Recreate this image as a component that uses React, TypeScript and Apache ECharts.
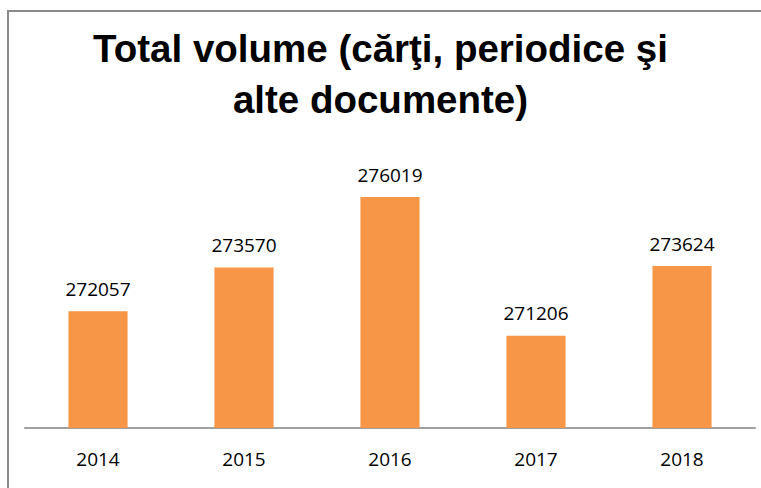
import React, { useEffect, useRef } from "react";
import * as echarts from "echarts";

const categories = ["2014", "2015", "2016", "2017", "2018"];
const values = [272057, 273570, 276019, 271206, 273624];
const titleText = "Total volume (cărţi, periodice şi\nalte documente)";

export default function App() {
  const ref = useRef<HTMLDivElement>(null);
  useEffect(() => {
    document.body.style.margin = "0";
    const chart = echarts.init(ref.current!, null, { renderer: "svg" });
    chart.setOption({
      animation: false,
      backgroundColor: "#ffffff",
      title: {
        text: titleText,
        left: "center",
        top: 18,
        textStyle: {
          fontFamily: "Liberation Sans",
          fontWeight: "bold",
          fontSize: 38.5,
          lineHeight: 51,
          color: "#000000",
          align: "center",
        },
      },
      graphic: [
        {
          type: "rect",
          shape: { x: 755, y: 13, width: 6, height: 412 },
          style: { fill: "#ffffff" },
          silent: true,
          z: 99,
        },
        {
          type: "rect",
          shape: { x: 7, y: 10, width: 2, height: 478 },
          style: { fill: "#8a8a8a" },
          silent: true,
          z: 100,
        },
        {
          type: "rect",
          shape: { x: 7, y: 10, width: 754, height: 2 },
          style: { fill: "#8a8a8a" },
          silent: true,
          z: 100,
        },
      ],
      grid: { left: 25, right: 6, top: 140, bottom: 60 },
      xAxis: {
        type: "category",
        data: categories,
        axisLine: { show: true, lineStyle: { color: "#a0a0a0", width: 2 } },
        axisTick: { show: false },
        axisLabel: {
          margin: 21,
          fontFamily: "Open Sans",
          fontSize: 19,
          color: "#000000",
        },
      },
      yAxis: {
        type: "value",
        min: 268000,
        max: 278000,
        interval: 2000,
        show: false,
        axisLine: { show: false },
        splitLine: { show: false },
      },
      series: [
        {
          type: "bar",
          data: values,
          barWidth: "40.5%",
          itemStyle: { color: "#F79646" },
          label: {
            show: true,
            position: "top",
            distance: 13,
            fontFamily: "Open Sans",
            fontSize: 19,
            color: "#000000",
          },
        },
      ],
    });
    return () => chart.dispose();
  }, []);
  return <div ref={ref} style={{ width: 761, height: 488 }} />;
}
